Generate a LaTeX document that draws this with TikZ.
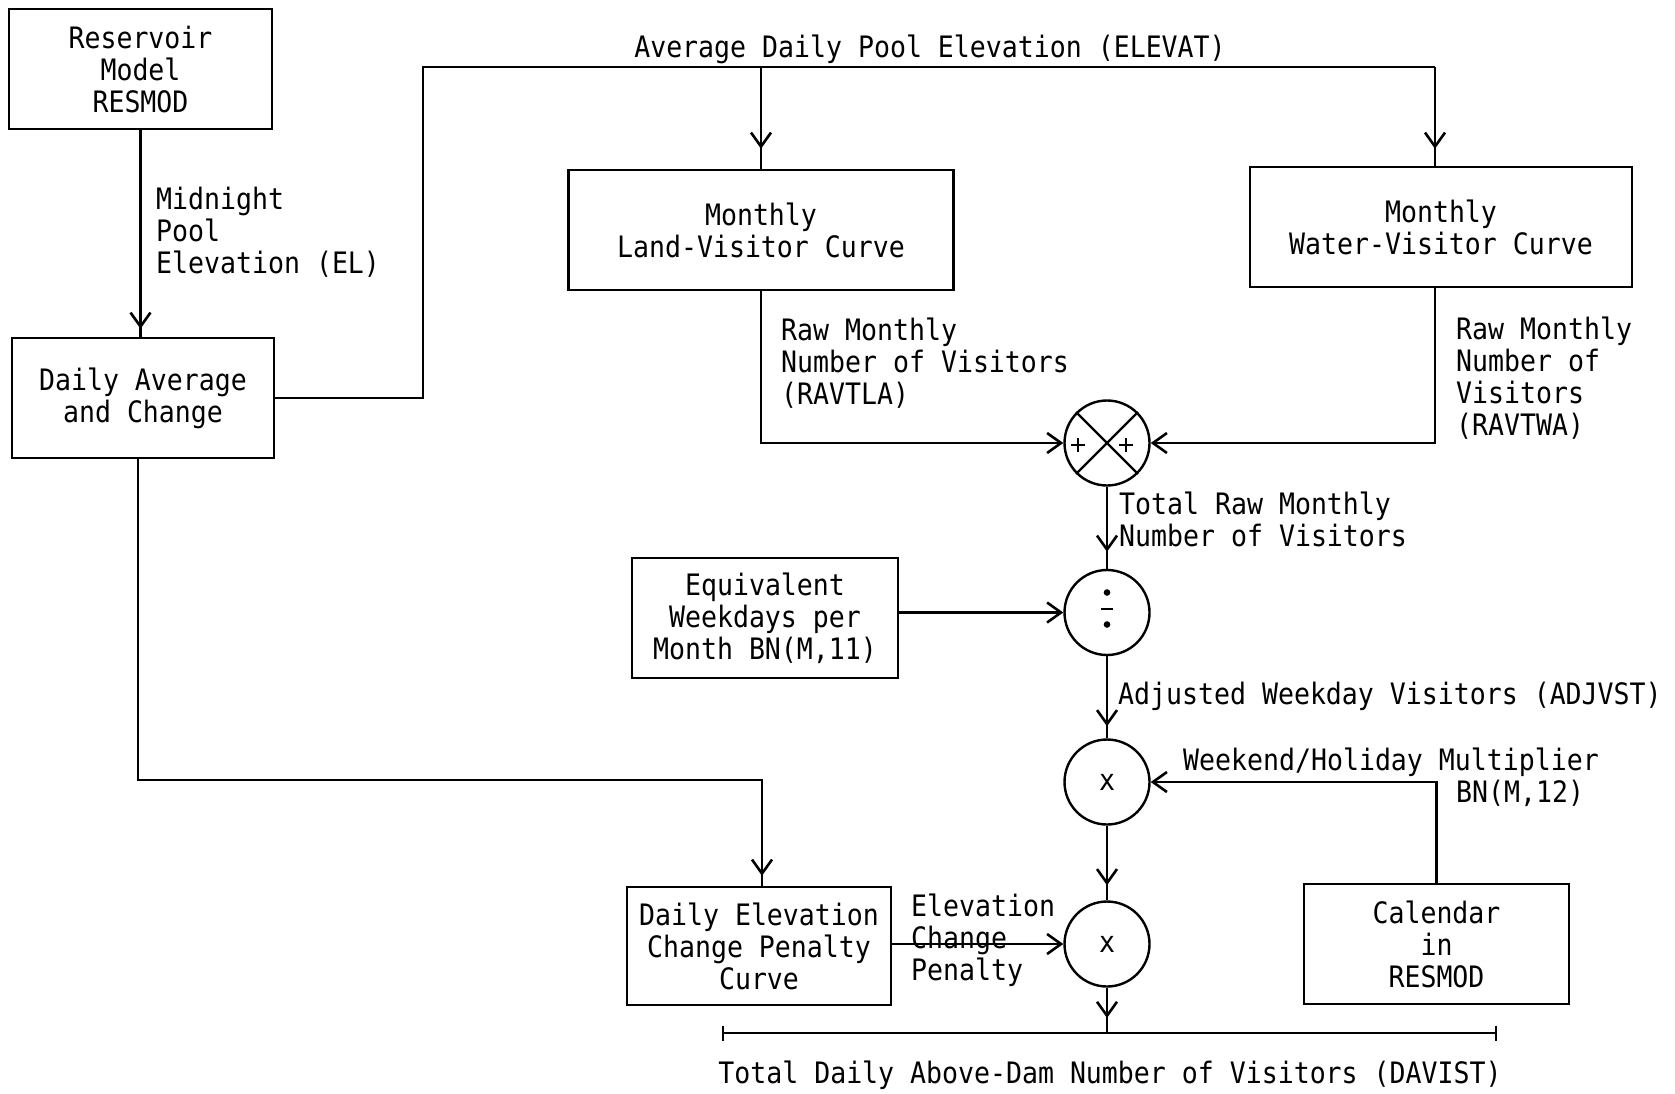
\documentclass[tikz,border=0pt]{standalone}
\usepackage{fontspec}
\newfontfamily\typefont[FakeStretch=0.9]{DejaVu Sans Mono}
\usetikzlibrary{arrows.meta,decorations.markings}

\begin{document}
\begin{tikzpicture}[x=1pt,y=-1pt,line width=2.4pt,
  >={Straight Barb[length=14pt,width=20pt,line width=2.6pt]},
  txt/.style={font=\typefont\fontsize{29.5}{32}\selectfont,inner sep=0pt},
  block/.style={txt,draw,rectangle,align=center},
  junction/.style={txt,draw,circle,minimum size=85pt},
  lbl/.style={txt,anchor=north west,align=left},
  midtip/.style={postaction={decorate},
    decoration={markings,mark=at position -#1 with {\arrow{>}}}},
  midtip/.default=15pt]

\useasboundingbox (0,0) rectangle (1675,1093);

% blocks
\node[block,minimum width=263pt,minimum height=120pt] (res) at (140.5,69) {Reservoir\\Model\\RESMOD};
\node[block,minimum width=262pt,minimum height=120pt] (avg) at (143,398) {Daily Average\\and Change};
\node[block,minimum width=385pt,minimum height=120pt] (land) at (761,230) {Monthly\\Land-Visitor Curve};
\node[block,minimum width=382pt,minimum height=120pt] (water) at (1441,227) {Monthly\\Water-Visitor Curve};
\node[block,minimum width=266pt,minimum height=120pt] (equiv) at (765,618) {Equivalent\\Weekdays per\\Month BN(M,11)};
\node[block,minimum width=264pt,minimum height=118pt] (elev) at (759,946) {Daily Elevation\\Change Penalty\\Curve};
\node[block,minimum width=265pt,minimum height=120pt] (cal) at (1436.5,944) {Calendar\\in\\RESMOD};

% junctions
\node[junction] (sum) at (1107,443) {};
\node[junction] (div) at (1107,612.5) {};
\node[junction] (mone) at (1107,782) {x};
\node[junction] (mtwo) at (1107,944) {x};

% summing junction: cross and plus signs
\draw (sum.north west) -- (sum.south east) (sum.north east) -- (sum.south west);
\draw (sum.center) ++(-29,2) ++(-7,0) -- ++(14,0) ++(-7,-7) -- ++(0,14);
\draw (sum.center) ++(19,2) ++(-7,0) -- ++(14,0) ++(-7,-7) -- ++(0,14);

% division sign
\fill (div.center) ++(0,-20) circle (3.3);
\fill (div.center) ++(0,12) circle (3.3);
\draw (div.center) ++(-6,-3.5) -- ++(12,0);

% labels
\node[txt,anchor=base] (elevat) at (930,57) {Average Daily Pool Elevation (ELEVAT)};
\node[lbl] (midlbl) at (155,186) {Midnight\\Pool\\Elevation (EL)};
\node[lbl] (rawland) at (780,317) {Raw Monthly\\Number of Visitors\\(RAVTLA)};
\node[lbl] (rawwater) at (1455,316) {Raw Monthly\\Number of\\Visitors\\(RAVTWA)};
\node[lbl] (totraw) at (1118,491) {Total Raw Monthly\\Number of Visitors};
\node[txt,anchor=base west] (adjvst) at (1117,704) {Adjusted Weekday Visitors (ADJVST)};
\node[txt,anchor=base west] (wkend) at (1182,770) {Weekend/Holiday Multiplier};
\node[txt,anchor=base west] (bnm) at (1455,802) {BN(M,12)};
\node[lbl] (penlbl) at (910,893) {Elevation\\Change\\Penalty};
\node[txt,anchor=base] (davist) at (1110,1083) {Total Daily Above-Dam Number of Visitors (DAVIST)};

% routing points
\coordinate (tl) at (423,67);
\coordinate (tr) at (1435,67);
\coordinate (eb) at (762,780);
\coordinate (bl) at (722,1033);
\coordinate (br) at (1497,1033);

% connectors
\draw[midtip=8pt] (res.south) -- (res.south |- avg.north);
\draw (avg.east) -| (tl) -- (tr);
\draw[midtip=20pt] (land.north |- tl) -- (land.north);
\draw[midtip=17pt] (tr) -- (tr |- water.north);
\draw[->] (land.south) |- (sum.west);
\draw[->] (tr |- water.south) |- (sum.east);
\draw[midtip=17pt] (sum.south) -- (div.north);
\draw[->] (equiv.east |- div.west) -- (div.west);
\draw[midtip=12pt] (div.south) -- (mone.north);
\draw[->] (cal.north) |- (mone.east);
\draw[midtip] (mone.south) -- (mtwo.north);
\draw[midtip=10pt] ([xshift=-5pt]avg.south) |- (eb) -- (eb |- elev.north);
\draw[->] (elev.east |- mtwo.west) -- (mtwo.west);
\draw[midtip] (mtwo.south) -- (mtwo.south |- bl);
\draw[{Bar[width=15pt]}-{Bar[width=15pt]}] (bl) -- (br);
\end{tikzpicture}
\end{document}
